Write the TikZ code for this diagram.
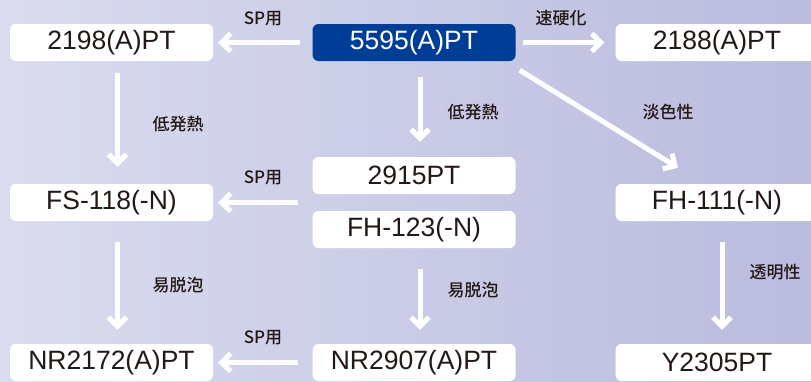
\documentclass[tikz,border=0pt]{standalone}
\usepackage{fontspec}
\setmainfont{Liberation Sans}
\newfontfamily\jpfont{Noto Sans CJK JP Medium}
\usepackage{tikz}
\usetikzlibrary{arrows.meta}

\definecolor{bgleft}{RGB}{218,220,238}
\definecolor{bgright}{RGB}{186,187,222}
\definecolor{basenavy}{RGB}{0,61,150}
\definecolor{ink}{RGB}{35,24,21}

\tikzset{
  grade/.style={rectangle, rounded corners=6pt, fill=white, text=ink, inner sep=0pt,
    minimum width=203pt, minimum height=37pt, font=\fontsize{26.5}{26.5}\selectfont},
  basegrade/.style={grade, fill=basenavy, text=white},
  flow/.style={white, line width=5pt, -{Straight Barb[length=9pt,width=18pt]}},
  tag/.style={text=ink, inner sep=0pt, font=\jpfont\fontsize{17}{17}\selectfont},
}

\begin{document}
\begin{tikzpicture}[x=1pt, y=-1pt]
        % Background
        \clip (0,0) rectangle (811,381);
        \shade[left color=bgleft, right color=bgright] (0,0) rectangle (811,381);

        % Top row
        \node[grade] (b2198) at (111.5,42.5) {2198(A)PT};
        \node[basegrade] (b5595) at (414,42.5) {5595(A)PT};
        \node[grade] (b2188) at (717,42.5) {2188(A)PT};

        % Middle row
        \node[grade] (b2915) at (414,175.5) {2915PT};
        \node[grade] (fh123) at (414,229.5) {FH-123(-N)};
        \node[grade] (fs118) at (111.5,202.5) {FS-118(-N)};
        \node[grade] (fh111) at (717,202.5) {FH-111(-N)};

        % Bottom row
        \node[grade] (nr2172) at (111.5,362.5) {NR2172(A)PT};
        \node[grade] (nr2907) at (414,362.5) {NR2907(A)PT};
        \node[grade] (y2305) at (717,362.5) {Y2305PT};

        % Arrows out of 5595(A)PT
        \draw[flow, shorten <=12pt, shorten >=5pt] (b5595.west) -- (b2198.east);
        \draw[flow, shorten <=7pt, shorten >=11pt] (b5595.east) -- (b2188.west);
        \draw[flow, shorten <=16pt, shorten >=15pt] ([xshift=6pt]b5595.south) -- ([xshift=6pt]b2915.north);
        \coordinate (fhtip) at ([xshift=-39pt,yshift=16pt]fh111.north);
        \draw[flow] ([xshift=4pt,yshift=-9pt]b5595.south east) -- (fhtip);

        % Left column
        \draw[flow, shorten <=12pt, shorten >=17pt] ([xshift=6pt]b2198.south) -- ([xshift=6pt]fs118.north);
        \draw[flow, shorten <=21pt, shorten >=14pt] ([xshift=6pt]fs118.south) -- ([xshift=6pt]nr2172.north);

        % SP arrows to the left
        \draw[flow, shorten <=14pt, shorten >=5pt] (b2915.west |- fs118.east) -- (fs118.east);
        \draw[flow, shorten <=14pt, shorten >=5pt] (nr2907.west) -- (nr2172.east);

        % Middle and right columns
        \draw[flow, shorten <=21pt, shorten >=14pt] ([xshift=6pt]fh123.south) -- ([xshift=6pt]nr2907.north);
        \draw[flow, shorten <=21pt, shorten >=14pt] ([xshift=5pt]fh111.south) -- ([xshift=5pt]y2305.north);

        % Labels
        \node[tag] (sptop) at (263,19) {SP用};
        \node[tag] (quick) at (561,18) {速硬化};
        \node[tag] (lowheatl) at (178,124) {低発熱};
        \node[tag] (lowheatm) at (473,112) {低発熱};
        \node[tag] (pale) at (668,112) {淡色性};
        \node[tag] (spmid) at (263,178) {SP用};
        \node[tag] (foaml) at (178,285) {易脱泡};
        \node[tag] (foamm) at (473,290) {易脱泡};
        \node[tag] (spbot) at (263,338) {SP用};
        \node[tag] (clear) at (775,272) {透明性};
    \end{tikzpicture}
\end{document}
